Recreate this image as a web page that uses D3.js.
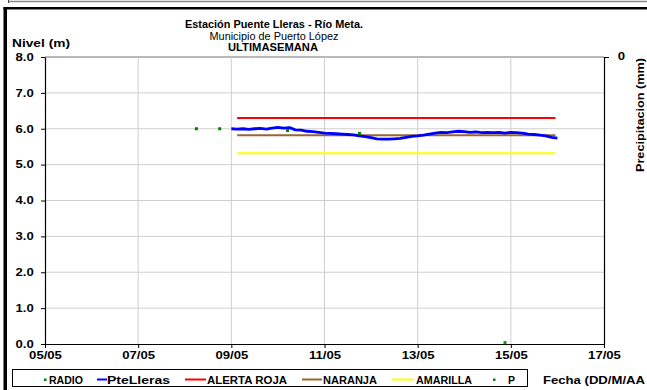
<!DOCTYPE html>
<html>
<head>
<meta charset="utf-8">
<script src="https://cdn.jsdelivr.net/npm/d3@7"></script>
<style>
  body { margin: 0; background: #fff; }
  text { font-family: "Liberation Sans", Arial, sans-serif; }
</style>
</head>
<body>
<div id="chart"></div>
<script>
// level readings every 3 hours starting 09/05 00:00
let levelStart = "2013-05-09 00:00";
let levelValues = [
  6.00, 5.99, 6.00, 5.98, 6.00, 6.01, 5.99, 6.02, 6.04, 6.02,
  6.03, 5.97, 5.96, 5.93, 5.92, 5.90, 5.88, 5.87, 5.86, 5.85,
  5.84, 5.83, 5.80, 5.78, 5.75, 5.72, 5.71, 5.71, 5.72, 5.73,
  5.76, 5.79, 5.80, 5.82, 5.85, 5.88, 5.90, 5.89, 5.91, 5.93,
  5.92, 5.90, 5.91, 5.89, 5.90, 5.89, 5.90, 5.88, 5.90, 5.89,
  5.88, 5.85, 5.84, 5.82, 5.80, 5.76, 5.74
];
let radioDates = ["2013-05-08 06:00", "2013-05-08 18:00", "2013-05-10 05:00", "2013-05-11 18:00"];
let radioValues = [6.0, 6.0, 5.95, 5.87];
let precipDates = ["2013-05-14 21:00"];
let precipValues = [9.95];
let thresholdNames = ["ALERTA ROJA", "NARANJA", "AMARILLA"];
let thresholdValues = [6.3, 5.82, 5.32];
let thresholdColors = ["#ff0000", "#996633", "#ffff00"];
let thresholdRange = ["2013-05-09 03:00", "2013-05-15 23:00"];
let xTicks = ["2013-05-05", "2013-05-07", "2013-05-09", "2013-05-11", "2013-05-13", "2013-05-15", "2013-05-17"];
let yTicks = [0, 1, 2, 3, 4, 5, 6, 7, 8];

let parse = d3.timeParse("%Y-%m-%d %H:%M");
let parseDay = d3.timeParse("%Y-%m-%d");

let t0 = parse(levelStart);
let level = levelValues.map((v, i) => ({ date: d3.timeHour.offset(t0, i * 3), value: v }));
let radio = radioDates.map((d, i) => ({ date: parse(d), value: radioValues[i] }));
let precip = precipDates.map((d, i) => ({ date: parse(d), value: precipValues[i] }));
let tickDates = xTicks.map(parseDay);

let width = 647, height = 390,
  margin = ({ top: 57, right: 43, bottom: 46, left: 45 });

let x = d3.scaleTime()
  .domain([tickDates[0], tickDates[tickDates.length - 1]])
  .range([margin.left, width - margin.right]);

let y = d3.scaleLinear()
  .domain([0, 8])
  .range([height - margin.bottom, margin.top]);

let yP = d3.scaleLinear()
  .domain([0, 10])
  .range([margin.top, height - margin.bottom]);

const svg = d3.select("#chart")
  .append("svg")
  .attr("width", width)
  .attr("height", height)
  .attr("viewBox", [0, 0, width, height]);

// frames
svg.append("line").attr("x1", 8).attr("x2", width).attr("y1", 1.5).attr("y2", 1.5)
  .attr("stroke", "#888").attr("stroke-width", 1.5);
svg.append("line").attr("x1", 8.5).attr("x2", 8.5).attr("y1", 0).attr("y2", 3)
  .attr("stroke", "#444");
svg.append("rect").attr("x", 3.5).attr("y", 7).attr("width", 3.5).attr("height", height - 7).attr("fill", "#000");
svg.append("rect").attr("x", 3.5).attr("y", 7).attr("width", width - 3.5).attr("height", 2.5).attr("fill", "#000");

// grid
svg.append("g")
  .selectAll("line")
  .data(yTicks.slice(1))
  .join("line")
  .attr("x1", margin.left).attr("x2", width - margin.right)
  .attr("y1", d => y(d)).attr("y2", d => y(d))
  .attr("stroke", d => d === 8 ? "#a0a0a0" : "#cfcfcf")
  .attr("stroke-width", d => d === 8 ? 1.5 : 1);

svg.append("g")
  .selectAll("line")
  .data(tickDates.slice(1, -1))
  .join("line")
  .attr("x1", d => x(d)).attr("x2", d => x(d))
  .attr("y1", margin.top).attr("y2", height - margin.bottom)
  .attr("stroke", "#cfcfcf");

// axes
let xAxis = svg.append("g")
  .attr("transform", `translate(0,${height - margin.bottom})`)
  .call(d3.axisBottom(x).tickValues(tickDates).tickFormat(d3.timeFormat("%d/%m")).tickSize(4).tickSizeOuter(0).tickPadding(4));

let yAxis = svg.append("g")
  .attr("transform", `translate(${margin.left},0)`)
  .call(d3.axisLeft(y).tickValues(yTicks).tickFormat(d3.format(".1f")).tickSize(4).tickSizeOuter(0));

let rAxis = svg.append("g")
  .attr("transform", `translate(${width - margin.right},0)`)
  .call(d3.axisRight(yP).tickValues([0]).tickSize(5).tickSizeOuter(0).tickPadding(12));

for (let a of [xAxis, yAxis, rAxis]) {
  a.select(".domain").attr("stroke", "#000").attr("stroke-width", 1.2);
  a.selectAll(".tick line").attr("stroke", "#000");
  a.selectAll("text")
    .attr("fill", "#000")
    .style("font-family", "Liberation Sans, Arial, sans-serif")
    .style("font-size", "10.5px")
    .style("font-weight", "bold")
    .attr("transform", "scale(1.25,1)");
}
yAxis.selectAll("text").attr("x", -9);
rAxis.selectAll("text").attr("x", 11).attr("dy", "0.2em");

// thresholds
let tr = thresholdRange.map(parse);
svg.append("g")
  .selectAll("line")
  .data(thresholdValues)
  .join("line")
  .attr("x1", x(tr[0])).attr("x2", x(tr[1]))
  .attr("y1", d => y(d)).attr("y2", d => y(d))
  .attr("stroke", (d, i) => thresholdColors[i])
  .attr("stroke-width", 2);

// level
let line = d3.line()
  .x(d => x(d.date))
  .y(d => y(d.value));

svg.append("path")
  .datum(level)
  .attr("fill", "none")
  .attr("stroke", "#0000ff")
  .attr("stroke-width", 2.8)
  .attr("stroke-linejoin", "round")
  .attr("d", line);

svg.append("g")
  .selectAll("rect")
  .data(radio)
  .join("rect")
  .attr("x", d => x(d.date) - 1.5).attr("y", d => y(d.value) - 1.5)
  .attr("width", 3).attr("height", 3)
  .attr("fill", "#008000");

svg.append("g")
  .selectAll("rect")
  .data(precip)
  .join("rect")
  .attr("x", d => x(d.date) - 1.5).attr("y", d => yP(d.value) - 1.5)
  .attr("width", 3).attr("height", 3)
  .attr("fill", "#00a000");

// titles, widths
function label(tx, ty, txt, len, bold, anchor) {
  return svg.append("text").attr("x", tx).attr("y", ty)
    .attr("text-anchor", anchor || "start")
    .attr("textLength", len).attr("lengthAdjust", "spacingAndGlyphs")
    .style("font-size", "10.5px").style("font-weight", bold ? "bold" : "normal")
    .text(txt);
}
label(274, 28, "Estación Puente Lleras - Río Meta.", 178, true, "middle");
label(274, 40, "Municipio de Puerto López", 129, false, "middle");
label(273, 51, "ULTIMASEMANA", 90, true, "middle");
label(12, 47, "Nivel (m)", 58, true);
label(543, 384, "Fecha (DD/M/AA", 102, true);
svg.append("text").attr("transform", "translate(644,172) rotate(-90)")
  .attr("textLength", 114).attr("lengthAdjust", "spacingAndGlyphs")
  .style("font-size", "10.5px").style("font-weight", "bold")
  .text("Precipitacion (mm)");

// legend
let legend = svg.append("g");
legend.append("rect").attr("x", 12.5).attr("y", 369.5).attr("width", 515).attr("height", 17)
  .attr("fill", "#fff").attr("stroke", "#000");

let items = [
  { name: "RADIO", type: "dot", color: "#008000", x0: 45, x1: 46, tx: 49, tw: 34 },
  { name: "PteLleras", type: "line", color: "#0000ff", x0: 97, x1: 107, tx: 107, tw: 63 },
  { name: thresholdNames[0], type: "line", color: thresholdColors[0], x0: 185, x1: 206, tx: 207, tw: 80 },
  { name: thresholdNames[1], type: "line", color: thresholdColors[1], x0: 302, x1: 322, tx: 323, tw: 54 },
  { name: thresholdNames[2], type: "line", color: thresholdColors[2], x0: 392, x1: 414, tx: 416, tw: 56 },
  { name: "P", type: "dot", color: "#008000", x0: 494, x1: 495, tx: 508, tw: 7 }
];
let li = legend.selectAll("g.item").data(items).join("g").attr("class", "item");
li.filter(d => d.type === "line").append("line")
  .attr("x1", d => d.x0).attr("x2", d => d.x1)
  .attr("y1", 379.5).attr("y2", 379.5)
  .attr("stroke", d => d.color).attr("stroke-width", 2);
li.filter(d => d.type === "dot").append("rect")
  .attr("x", d => d.x0 - 1).attr("y", 378.5).attr("width", 2.5).attr("height", 2.5)
  .attr("fill", d => d.color);
li.append("text")
  .attr("x", d => d.tx)
  .attr("y", 383.5)
  .attr("textLength", d => d.tw).attr("lengthAdjust", "spacingAndGlyphs")
  .style("font-size", "10px").style("font-weight", "bold")
  .text(d => d.name);
</script>
</body>
</html>
